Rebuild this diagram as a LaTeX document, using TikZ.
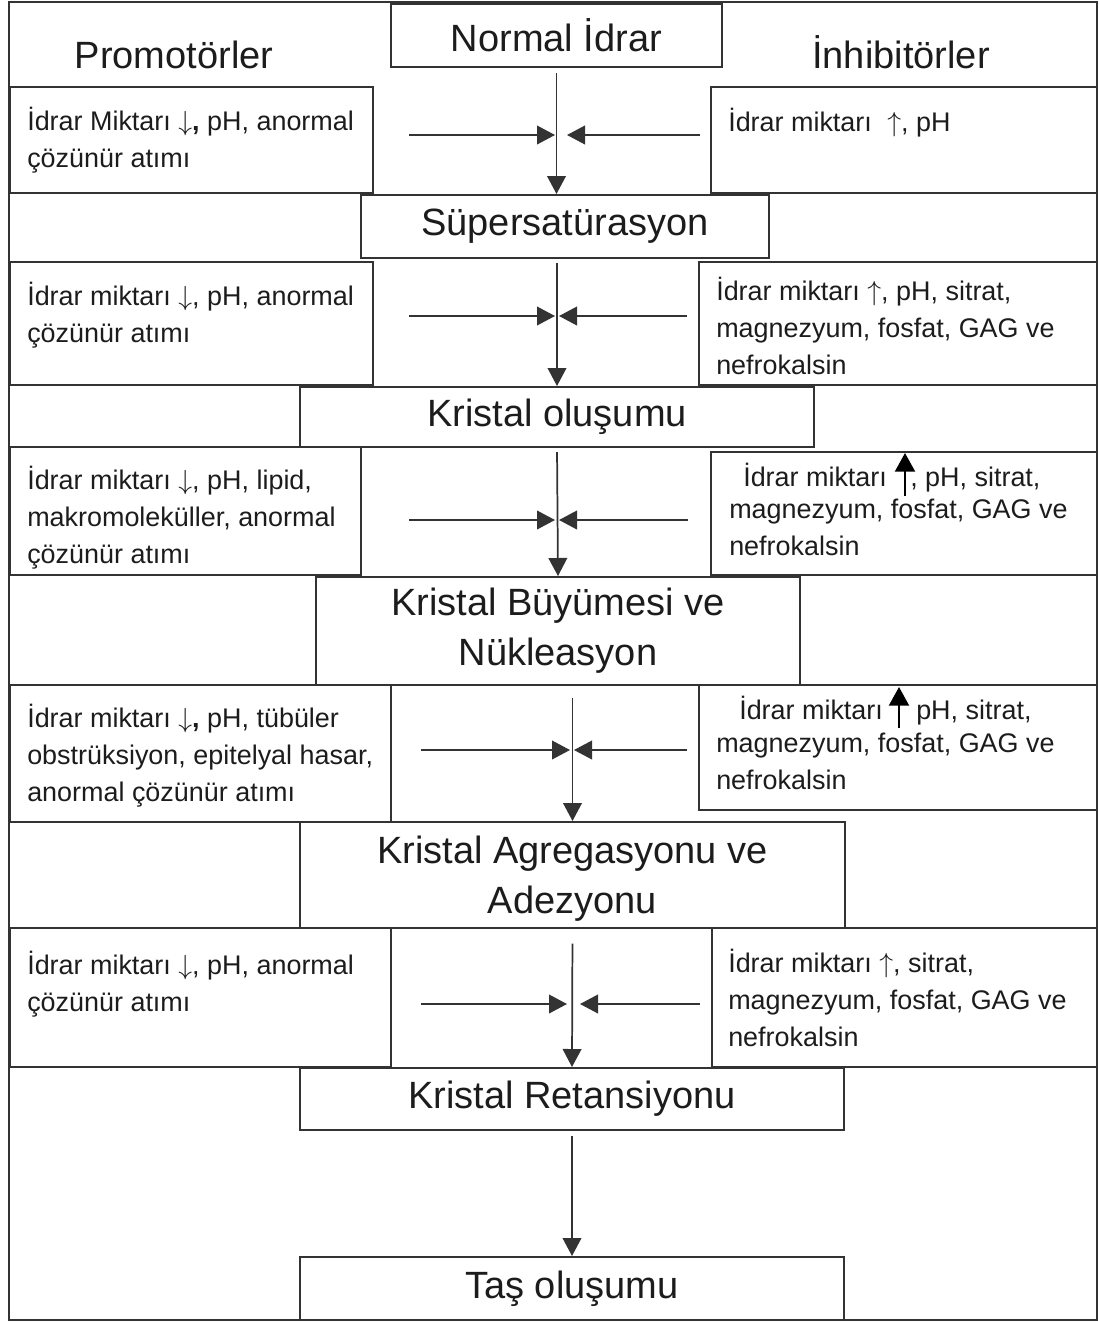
\documentclass[tikz,border=0pt]{standalone}
\usepackage{fontspec}
\setmainfont{Liberation Sans}
\usetikzlibrary{arrows.meta,fit}
\definecolor{linec}{HTML}{333333}
\definecolor{txtc}{HTML}{1C1C1C}
\newcommand{\bigf}{\fontsize{28.5pt}{37.5pt}\selectfont}
\newcommand{\smallf}{\fontsize{20.2pt}{27.4pt}\selectfont}
\newcommand{\dnar}{\(\downarrow\)}
\newcommand{\upar}{\(\uparrow\)}
\begin{document}
\begin{tikzpicture}[x=0.75pt,y=-0.75pt,
  box/.style={draw=linec, line width=1.5pt, inner sep=0pt},
  lab/.style={inner sep=0pt, text=txtc, font=\bigf, align=center},
  head/.style={anchor=base, inner sep=0pt, text=txtc, font=\bigf},
  txt/.style={anchor=base west, inner sep=0pt, text=txtc, font=\smallf, align=left},
  flow/.style={draw=linec, line width=1.3pt, -{Triangle[length=13.5pt,width=14pt]}},
  bigup/.style={draw=black, line width=1.6pt, -{Triangle[length=14pt,width=15pt]}}]
\useasboundingbox (0,0) rectangle (1099,1322);
\node[box, fit={(9,2)(1097,1320)}] (frame) {};
% header
\node[box, fit={(391,4)(722,67)}] (normal) {};
\node[lab] (normal-l) at (normal) {Normal İdrar};
\node[head] (promo) at (174,68) {Promotörler};
\node[head] (inhib) at (901,68) {İnhibitörler};
% row 1
\node[box, fit={(10,87)(373,193)}] (p1) {};
\node[box, fit={(711,87)(1097,193)}] (i1) {};
\node[txt] (p1t) at (27,167.5) {İdrar Miktarı \dnar\textbf{,} pH, anormal\\çözünür atımı};
\node[txt] (i1t) at (728,131) {İdrar miktarı\hspace{6pt} \upar, pH};
% row 2
\node[box, fit={(361,195)(769,258)}] (super) {};
\node[lab] (super-l) at (super) {Süpersatürasyon};
% row 3
\node[box, fit={(10,262)(373,385)}] (p3) {};
\node[box, fit={(699,262)(1097,385)}] (i3) {};
\node[txt] (p3t) at (27,342.5) {İdrar miktarı \dnar, pH, anormal\\çözünür atımı};
\node[txt] (i3t) at (716,374) {İdrar miktarı \upar, pH, sitrat,\\magnezyum, fosfat, GAG ve\\nefrokalsin};
% row 4
\node[box, fit={(300,387)(814,447)}] (olusum) {};
\node[lab] (olusum-l) at (olusum) {Kristal oluşumu};
% row 5
\node[box, fit={(10,447)(361,575)}] (p5) {};
\node[box, fit={(711,452)(1097,575)}] (i5) {};
\node[txt] (p5t) at (27,563) {İdrar miktarı \dnar, pH, lipid,\\makromoleküller, anormal\\çözünür atımı};
\node[txt] (i5a) at (743,486) {İdrar miktarı};
\node[txt] (i5b) at (910,486) {, pH, sitrat,};
\node[txt] (i5c) at (729,555) {magnezyum, fosfat, GAG ve\\nefrokalsin};
% row 6
\node[box, fit={(316,577)(800,685)}] (buyume) {};
\node[lab] (buyume-l) at (buyume) {Kristal Büyümesi ve\\Nükleasyon};
% row 7
\node[box, fit={(10,685)(391,822)}] (p7) {};
\node[box, fit={(699,685)(1097,810)}] (i7) {};
\node[txt] (p7t) at (27,801) {İdrar miktarı \dnar\textbf{,} pH, tübüler\\obstrüksiyon, epitelyal hasar,\\anormal çözünür atımı};
\node[txt] (i7a) at (739,719) {İdrar miktarı};
\node[txt] (i7b) at (916,719) {pH, sitrat,};
\node[txt] (i7c) at (716,789) {magnezyum, fosfat, GAG ve\\nefrokalsin};
% row 8
\node[box, fit={(300,822)(845,928)}] (agreg) {};
\node[lab] (agreg-l) at (572.5,879) {Kristal Agregasyonu ve\\Adezyonu};
% row 9
\node[box, fit={(10,928)(391,1067)}] (p9) {};
\node[box, fit={(712,928)(1097,1067)}] (i9) {};
\node[txt] (p9t) at (27,1011) {İdrar miktarı \dnar, pH, anormal\\çözünür atımı};
\node[txt] (i9t) at (728,1046) {İdrar miktarı \upar, sitrat,\\magnezyum, fosfat, GAG ve\\nefrokalsin};
% row 10
\node[box, fit={(300,1068)(844,1130)}] (ret) {};
\node[lab] (ret-l) at (ret) {Kristal Retansiyonu};
\node[box, fit={(300,1257)(844,1320)}] (tas) {};
\node[lab] (tas-l) at (tas) {Taş oluşumu};
% main flow
\draw[flow, shorten <=4pt] (normal.south) -- (normal.south |- super.north);
\draw[flow, shorten <=3pt] (olusum.north |- super.south) -- (olusum.north);
\draw[flow, shorten <=3pt] (olusum.south) -- (buyume.north);
\draw[flow, shorten <=9pt] (agreg.north |- buyume.south) -- (agreg.north);
\draw[flow, shorten <=11pt] (agreg.south) -- (ret.north);
\draw[flow, shorten <=4pt] (ret.south) -- (tas.north);
% side arrows
\coordinate (r1s) at (409,135); \coordinate (r1e) at (555,135);
\coordinate (l1s) at (700,135); \coordinate (l1e) at (567,135);
\coordinate (r3s) at (409,316); \coordinate (r3e) at (555,316);
\coordinate (l3s) at (687,316); \coordinate (l3e) at (559,316);
\coordinate (r5s) at (409,520); \coordinate (r5e) at (555,520);
\coordinate (l5s) at (688,520); \coordinate (l5e) at (559,520);
\coordinate (r7s) at (421,750); \coordinate (r7e) at (570,750);
\coordinate (l7s) at (687,750); \coordinate (l7e) at (574,750);
\coordinate (r9s) at (421,1004); \coordinate (r9e) at (567,1004);
\coordinate (l9s) at (700,1004); \coordinate (l9e) at (580,1004);
\foreach \a in {r1,l1,r3,l3,r5,l5,r7,l7,r9,l9}{
  \draw[flow] (\a s) -- (\a e);
}
% bold up arrows
\coordinate (u5s) at (905,496); \coordinate (u5e) at (905,453);
\coordinate (u7s) at (899,728); \coordinate (u7e) at (899,687);
\draw[bigup] (u5s) -- (u5e);
\draw[bigup] (u7s) -- (u7e);
\end{tikzpicture}
\end{document}
